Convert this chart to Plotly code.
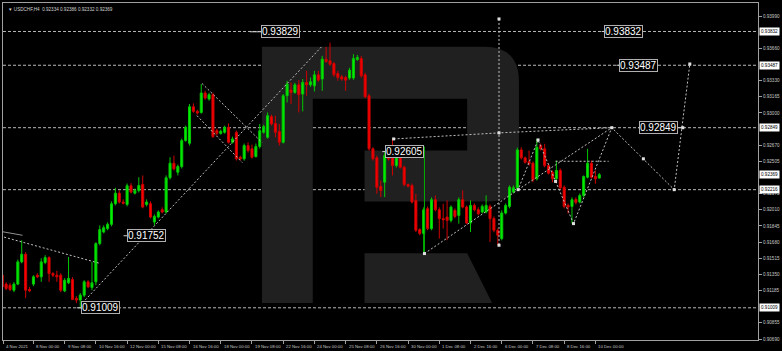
import plotly.graph_objects as go

# ---------------- data (USDCHF H4) ----------------
opens = [
    0.91342, 0.91251, 0.91240, 0.91189, 0.91251, 0.91478, 0.91556, 0.91196, 0.91251, 0.91342,
    0.91325, 0.91472, 0.91522, 0.91359, 0.91342, 0.91342, 0.91182, 0.91264, 0.91298, 0.91105,
    0.91088, 0.91138, 0.91274, 0.91217, 0.91274, 0.91665, 0.91783, 0.91818, 0.91862, 0.92072,
    0.92180, 0.92089, 0.92065, 0.92256, 0.92180, 0.92208, 0.92269, 0.92065, 0.92072, 0.91885,
    0.91936, 0.92011, 0.91987, 0.92337, 0.92486, 0.92394, 0.92452, 0.92717, 0.92690, 0.93063,
    0.93016, 0.93005, 0.93203, 0.93142, 0.93186, 0.92819, 0.92791, 0.92802, 0.92853, 0.92700,
    0.92802, 0.92547, 0.92531, 0.92666, 0.92633, 0.92554, 0.92656, 0.92802, 0.92751, 0.92962,
    0.92893, 0.92809, 0.92700, 0.93175, 0.93234, 0.93209, 0.93287, 0.93193, 0.93311, 0.93287,
    0.93277, 0.93389, 0.93346, 0.93549, 0.93532, 0.93504, 0.93403, 0.93369, 0.93362, 0.93356,
    0.93356, 0.93545, 0.93555, 0.93389, 0.93175, 0.92633, 0.92541, 0.92249, 0.92292, 0.92564,
    0.92554, 0.92462, 0.92615, 0.92445, 0.92269, 0.92259, 0.92106, 0.91808, 0.91767, 0.92021,
    0.91818, 0.92113, 0.92011, 0.91920, 0.91936, 0.91902, 0.92004, 0.91953, 0.92113, 0.92038,
    0.91875, 0.92055, 0.92011, 0.91987, 0.91987, 0.92045, 0.91920, 0.91801, 0.91716, 0.91977,
    0.92045, 0.92191, 0.92235, 0.92622, 0.92541, 0.92503, 0.92486, 0.92327, 0.92666, 0.92633,
    0.92462, 0.92394, 0.92327, 0.92412, 0.92241, 0.92055, 0.92045, 0.92116, 0.92089, 0.92157,
    0.92343, 0.92486, 0.92350, 0.92334,
]
highs = [
    0.91373, 0.91271, 0.91261, 0.91271, 0.91502, 0.91699, 0.91577, 0.91220, 0.91342, 0.91362,
    0.91515, 0.91546, 0.91536, 0.91373, 0.91386, 0.91362, 0.91312, 0.91529, 0.91322, 0.91128,
    0.91159, 0.91291, 0.91291, 0.91478, 0.91678, 0.91851, 0.91851, 0.91882, 0.92096, 0.92235,
    0.92208, 0.92116, 0.92279, 0.92282, 0.92228, 0.92343, 0.92361, 0.92116, 0.92096, 0.91963,
    0.92004, 0.92035, 0.92361, 0.92547, 0.92564, 0.92473, 0.92737, 0.92870, 0.93091, 0.93097,
    0.93033, 0.93295, 0.93226, 0.93206, 0.93206, 0.92839, 0.92829, 0.92870, 0.92893, 0.92758,
    0.92819, 0.92564, 0.92687, 0.92700, 0.92676, 0.92687, 0.92887, 0.92880, 0.93005, 0.92982,
    0.92972, 0.92887, 0.93193, 0.93328, 0.93311, 0.93308, 0.93335, 0.93346, 0.93430, 0.93362,
    0.93430, 0.93430, 0.93583, 0.93675, 0.93718, 0.93522, 0.93430, 0.93389, 0.93379, 0.93461,
    0.93600, 0.93593, 0.93583, 0.93410, 0.93196, 0.92649, 0.92564, 0.92310, 0.92598, 0.92633,
    0.92734, 0.92615, 0.92636, 0.92462, 0.92279, 0.92279, 0.92174, 0.91821, 0.92035, 0.92045,
    0.92137, 0.92157, 0.92035, 0.92072, 0.92106, 0.92055, 0.92025, 0.92137, 0.92208, 0.92055,
    0.92106, 0.92075, 0.92035, 0.92065, 0.92157, 0.92065, 0.91943, 0.91821, 0.92004, 0.92075,
    0.92259, 0.92259, 0.92646, 0.92649, 0.92554, 0.92615, 0.92503, 0.92734, 0.92687, 0.92684,
    0.92483, 0.92412, 0.92513, 0.92432, 0.92259, 0.92075, 0.92137, 0.92137, 0.92177, 0.92361,
    0.92633, 0.92513, 0.92412, 0.92386,
]
lows = [
    0.91189, 0.91189, 0.91179, 0.91169, 0.91240, 0.91464, 0.91108, 0.91169, 0.91230, 0.91312,
    0.91274, 0.91454, 0.91274, 0.91322, 0.91274, 0.91169, 0.91169, 0.91251, 0.91088, 0.91057,
    0.91009, 0.91118, 0.91210, 0.91189, 0.91240, 0.91648, 0.91770, 0.91801, 0.91841, 0.92055,
    0.92075, 0.92065, 0.92045, 0.92177, 0.92167, 0.92188, 0.92025, 0.92045, 0.91923, 0.91851,
    0.91923, 0.91974, 0.91974, 0.92320, 0.92412, 0.92361, 0.92432, 0.92707, 0.92666, 0.93002,
    0.92982, 0.92992, 0.93135, 0.93125, 0.92745, 0.92768, 0.92778, 0.92788, 0.92687, 0.92687,
    0.92513, 0.92513, 0.92513, 0.92595, 0.92534, 0.92544, 0.92636, 0.92788, 0.92737, 0.92870,
    0.92751, 0.92666, 0.92687, 0.93107, 0.93091, 0.93196, 0.93005, 0.93016, 0.93175, 0.93267,
    0.93219, 0.93318, 0.93226, 0.93512, 0.93481, 0.93369, 0.93328, 0.93328, 0.93226, 0.93338,
    0.93338, 0.93532, 0.93359, 0.93152, 0.92615, 0.92513, 0.92174, 0.92140, 0.92140, 0.92513,
    0.92361, 0.92442, 0.92432, 0.92249, 0.92238, 0.92075, 0.91783, 0.91750, 0.91563, 0.91801,
    0.91801, 0.91994, 0.91716, 0.91818, 0.91699, 0.91882, 0.91923, 0.91869, 0.92025, 0.91862,
    0.91783, 0.91994, 0.91953, 0.91974, 0.91974, 0.91681, 0.91780, 0.91648, 0.91699, 0.91963,
    0.92025, 0.92177, 0.92218, 0.92524, 0.92483, 0.92462, 0.92292, 0.92310, 0.92615, 0.92445,
    0.92371, 0.92292, 0.92310, 0.92218, 0.92025, 0.91971, 0.91869, 0.92065, 0.92075, 0.92137,
    0.92330, 0.92330, 0.92276, 0.92332,
]
closes = [
    0.91223, 0.91207, 0.91196, 0.91251, 0.91478, 0.91556, 0.91189, 0.91182, 0.91325, 0.91325,
    0.91478, 0.91522, 0.91359, 0.91342, 0.91325, 0.91189, 0.91291, 0.91309, 0.91095, 0.91088,
    0.91138, 0.91274, 0.91223, 0.91264, 0.91665, 0.91808, 0.91828, 0.91862, 0.92072, 0.92180,
    0.92089, 0.92078, 0.92256, 0.92191, 0.92208, 0.92259, 0.92038, 0.92089, 0.91936, 0.91943,
    0.91987, 0.91987, 0.92337, 0.92486, 0.92429, 0.92452, 0.92717, 0.92853, 0.93063, 0.93016,
    0.92999, 0.93203, 0.93152, 0.93186, 0.92758, 0.92791, 0.92812, 0.92853, 0.92700, 0.92734,
    0.92531, 0.92531, 0.92666, 0.92615, 0.92547, 0.92656, 0.92819, 0.92860, 0.92972, 0.92887,
    0.92802, 0.92700, 0.93175, 0.93295, 0.93209, 0.93287, 0.93186, 0.93311, 0.93287, 0.93318,
    0.93389, 0.93335, 0.93549, 0.93525, 0.93498, 0.93389, 0.93362, 0.93346, 0.93335, 0.93437,
    0.93555, 0.93566, 0.93379, 0.93165, 0.92633, 0.92531, 0.92241, 0.92208, 0.92564, 0.92531,
    0.92462, 0.92588, 0.92445, 0.92269, 0.92252, 0.92089, 0.91801, 0.91767, 0.92011, 0.91818,
    0.92113, 0.92011, 0.91920, 0.91909, 0.91902, 0.92038, 0.91943, 0.92113, 0.92038, 0.91875,
    0.92055, 0.92011, 0.91970, 0.92045, 0.92055, 0.91920, 0.91801, 0.91750, 0.91977, 0.92055,
    0.92241, 0.92235, 0.92622, 0.92541, 0.92496, 0.92480, 0.92317, 0.92649, 0.92633, 0.92462,
    0.92384, 0.92327, 0.92412, 0.92235, 0.92045, 0.92038, 0.92113, 0.92086, 0.92157, 0.92350,
    0.92486, 0.92343, 0.92327, 0.92369,
]
bars = list(range(len(opens)))

chart_title = "\u25bc USDCHF,H4  0.92334 0.92386 0.92332 0.92369"

date_tick_bars = [0.2, 8, 16, 24, 32, 40, 48, 56, 64, 72, 80, 88, 96, 104, 112, 120, 128, 136, 144, 152]
date_tick_labels = ["4 Nov 2021", "8 Nov 00:00", "9 Nov 08:00", "10 Nov 16:00", "12 Nov 00:00",
                    "15 Nov 08:00", "16 Nov 16:00", "18 Nov 00:00", "19 Nov 08:00", "22 Nov 16:00",
                    "24 Nov 00:00", "25 Nov 08:00", "26 Nov 16:00", "30 Nov 00:00", "1 Dec 08:00",
                    "2 Dec 16:00", "6 Dec 00:00", "7 Dec 08:00", "8 Dec 16:00", "10 Dec 00:00"]

price_ticks = [0.93990, 0.93660, 0.93330, 0.93165, 0.93000, 0.92670, 0.92505, 0.92175,
               0.92010, 0.91845, 0.91680, 0.91515, 0.91350, 0.91185, 0.90855, 0.90690]
axis_marked_prices = [0.93832, 0.93487, 0.92849, 0.92216, 0.92369, 0.91009]
level_prices = [0.93832, 0.93487, 0.92849, 0.92216, 0.91009]

label_texts = ["0.93829", "0.91752", "0.91009", "0.92605", "0.93832", "0.93487", "0.92849"]
label_bars = [71.4, 37.0, 25.1, 103.1, 159.2, 163.0, 168.2]
label_prices = [0.93829, 0.91745, 0.91009, 0.92605, 0.93832, 0.93487, 0.92849]

# analysis drawings (bar index, price)
trend_up_bars, trend_up_prices = [20.6, 81.8], [0.91060, 0.93675]
left_solid_bars, left_solid_prices = [-0.5, 5.2], [0.91790, 0.91750]
left_dash_bars, left_dash_prices = [-0.5, 25.2], [0.91742, 0.91461]
chan_a_bars, chan_a_prices = [51.2, 66.6], [0.93301, 0.92697]
chan_b_bars, chan_b_prices = [49.9, 61.5], [0.92972, 0.92493]
resist_bars, resist_prices = [100.3, 127.3, 156.2], [0.92734, 0.92796, 0.92849]
vert_bars, vert_prices = [127.3, 127.3], [0.93960, 0.91648]
green_bars, green_prices = [108.2, 108.2], [0.92656, 0.91563]
path_bars = [108.2, 132.2, 137.3, 141.8, 146.4, 156.2, 164.3, 172.2, 176.2]
path_prices = [0.91563, 0.92216, 0.92724, 0.92300, 0.91869, 0.92849, 0.92531, 0.92216, 0.93500]
short_bars, short_prices = [132.2, 156.2], [0.92216, 0.92849]
flat_bars, flat_prices = [141.8, 155.4], [0.92506, 0.92506]
tick_seg_bars = [[63.5, 66.6], [31.1, 32.4], [19.1, 20.4], [97.4, 98.5], [153.6, 154.6],
                 [157.4, 158.4], [163.0, 163.6], [172.8, 174.4]]
tick_seg_prices = [0.93829, 0.91745, 0.91009, 0.92605, 0.93832, 0.93487, 0.92849, 0.92849]
marker_bars = [100.3, 127.3, 127.3, 127.3, 174.4] + path_bars
marker_prices = [0.92734, 0.92796, 0.93960, 0.91648, 0.92849] + path_prices

# ---------------- figure ----------------
GRAY = "#c0c0c0"
SMALL = 4.6
fig = go.Figure()

fig.add_trace(go.Candlestick(
    x=bars, open=opens, high=highs, low=lows, close=closes,
    increasing=dict(line=dict(color="#00c800", width=1), fillcolor="#00f000"),
    decreasing=dict(line=dict(color="#d00000", width=1), fillcolor="#ff0000"),
    whiskerwidth=0, showlegend=False, hoverinfo="skip",
))

def dline(xs, ys, color=GRAY, dash="2px,2px", width=1):
    fig.add_trace(go.Scatter(x=xs, y=ys, mode="lines", line=dict(color=color, width=width, dash=dash),
                             showlegend=False, hoverinfo="skip"))

dline(left_solid_bars, left_solid_prices, color="#909090", dash="solid")
dline(left_dash_bars, left_dash_prices)
dline(trend_up_bars, trend_up_prices)
dline(chan_a_bars, chan_a_prices)
dline(chan_b_bars, chan_b_prices)
dline(resist_bars, resist_prices)
dline(vert_bars, vert_prices)
dline(green_bars, green_prices, color="#00b000", dash="solid")
dline(path_bars, path_prices)
dline(short_bars, short_prices)
dline(flat_bars, flat_prices)
for xs, yv in zip(tick_seg_bars, tick_seg_prices):
    dline(xs, [yv, yv], color="#d0d0d0", dash="solid")

fig.add_trace(go.Scatter(x=marker_bars, y=marker_prices, mode="markers",
                         marker=dict(symbol="square", size=3, color="#e0e0e0"),
                         showlegend=False, hoverinfo="skip"))

shapes = []
for p in level_prices:
    shapes.append(dict(type="line", xref="paper", x0=0, x1=1, yref="y", y0=p, y1=p,
                       line=dict(color="#b8b8b8", width=1, dash="3px,2px"), layer="below"))

# logo (pixel outline converted to paper space)
L_, R_, T_, B_ = 2, 760, 2, 340
def pp(x, y):
    return f"{(x - L_) / (R_ - L_):.5f},{(B_ - y) / (B_ - T_):.5f}"

bowl = ("M" + pp(262, 46) + " L" + pp(485, 46) + " Q" + pp(520, 46) + " " + pp(520, 81) +
        " L" + pp(520, 171) + " Q" + pp(520, 201) + " " + pp(490, 201) + " L" + pp(365, 201) +
        " L" + pp(365, 150) + " L" + pp(468, 150) + " L" + pp(468, 98) + " L" + pp(313, 98) +
        " L" + pp(313, 303) + " L" + pp(262, 303) + " Z")
leg = "M" + pp(365, 253) + " L" + pp(468, 253) + " L" + pp(493, 303) + " L" + pp(365, 303) + " Z"
for path in (bowl, leg):
    shapes.append(dict(type="path", xref="paper", yref="paper", path=path,
                       fillcolor="#202020", line=dict(width=0), layer="below"))

annotations = []
for t, bx, py in zip(label_texts, label_bars, label_prices):
    annotations.append(dict(x=bx, y=py, xref="x", yref="y", text=t, showarrow=False,
                            font=dict(family="Liberation Sans", size=10, color="#ffffff"),
                            bgcolor="#000000", bordercolor="#b0b0b0", borderwidth=1, borderpad=0,
                            xanchor="center", yanchor="middle"))

for p in axis_marked_prices:
    annotations.append(dict(x=1, y=p, xref="paper", yref="y", text=f"{p:.5f}", showarrow=False,
                            font=dict(family="Liberation Sans", size=SMALL, color="#000000"),
                            bgcolor="#ffffff", borderpad=1, xanchor="left", yanchor="middle",
                            xshift=1))

for b, t in zip(date_tick_bars, date_tick_labels):
    annotations.append(dict(x=b, y=0, xref="x", yref="paper", text=t, showarrow=False,
                            font=dict(family="Liberation Sans", size=4.3, color="#c8c8c8"),
                            xanchor="left", yanchor="top", xshift=1, yshift=-2))

annotations.append(dict(x=0, y=1, xref="paper", yref="paper", text=chart_title, showarrow=False,
                        font=dict(family="Liberation Sans", size=4.6, color="#d0d0d0"),
                        xanchor="left", yanchor="top", xshift=3, yshift=-2))

fig.update_layout(
    width=782, height=351,
    margin=dict(l=2, r=22, t=2, b=11),
    paper_bgcolor="#000000", plot_bgcolor="#000000",
    shapes=shapes, annotations=annotations,
    boxgap=0.25,
    xaxis=dict(range=[0.2, 193.67], showgrid=False, zeroline=False, showline=True, mirror=True,
               linecolor="#a0a0a0", linewidth=1, ticks="outside", ticklen=3, tickcolor="#a0a0a0",
               tickvals=date_tick_bars, showticklabels=False, rangeslider=dict(visible=False),
               fixedrange=True),
    yaxis=dict(range=[0.90680, 0.94123], side="right", showgrid=False, zeroline=False,
               showline=True, mirror=True, linecolor="#a0a0a0", linewidth=1,
               ticks="outside", ticklen=3, tickcolor="#a0a0a0",
               tickvals=price_ticks, ticktext=[f"{v:.5f}" for v in price_ticks],
               tickfont=dict(family="Liberation Sans", size=SMALL, color="#c8c8c8"),
               fixedrange=True),
)

fig.write_html("out.html")
